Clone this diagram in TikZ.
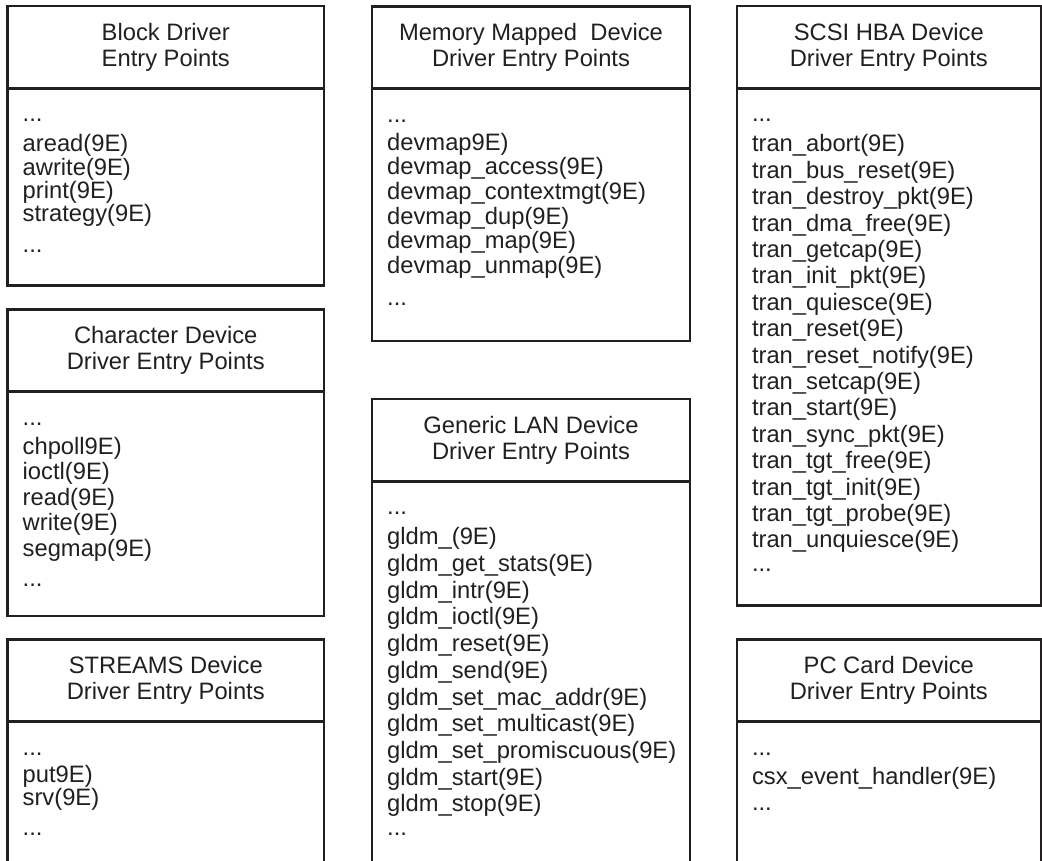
\documentclass[tikz,border=0pt]{standalone}
\usepackage{fontspec}
\setmainfont{Liberation Sans}
\usetikzlibrary{positioning}
\definecolor{ink}{RGB}{35,31,32}

\begin{document}
\begin{tikzpicture}[x=1pt,y=-1pt,color=ink,
    head/.style={draw,line width=2.6pt,minimum height=82pt,inner sep=0pt,outer sep=0pt,align=center,font=\fontsize{23.75pt}{26pt}\selectfont},
    body/.style={draw,line width=2.6pt,inner sep=0pt,outer sep=0pt,below=0.6pt of #1},
    entries/.style={anchor=north west,inner xsep=15pt,inner ysep=16pt,align=left,font=\fontsize{23.75pt}{#1}\selectfont},
    colA/.style={minimum width=316.5pt},
    colB/.style={minimum width=318pt},
    colC/.style={minimum width=304pt}]
  \useasboundingbox (0,0) rectangle (1042,860);
  % left column
  \node[head,colA] (blkhead) at (165.75,47) {Block Driver\\Entry Points};
  \node[body=blkhead,colA,minimum height=197pt] (blkbody) {};
  \node[entries=23.3pt] (blklist) at (blkbody.north west)
    {\rule{0pt}{17pt}...\\[6.7pt] aread(9E)\\ awrite(9E)\\ print(9E)\\ strategy(9E)\\[7.7pt] ...};
  \node[head,colA] (chrhead) at (165.75,350.5) {Character Device\\Driver Entry Points};
  \node[body=chrhead,colA,minimum height=224pt] (chrbody) {};
  \node[entries=25.5pt] (chrlist) at (chrbody.north west)
    {\rule{0pt}{17pt}...\\[3.5pt] chpoll9E)\\ ioctl(9E)\\ read(9E)\\ write(9E)\\ segmap(9E)\\[4.5pt] ...};
  \node[head,colA] (strhead) at (165.75,680.5) {STREAMS Device\\Driver Entry Points};
  \node[body=strhead,colA,minimum height=200pt] (strbody) {};
  \node[entries=23pt] (strlist) at (strbody.north west)
    {\rule{0pt}{17pt}...\\[4pt] put9E)\\ srv(9E)\\[7pt] ...};
  % middle column
  \node[head,colB] (memhead) at (531,47.5) {Memory Mapped\ \ Device\\Driver Entry Points};
  \node[body=memhead,colB,minimum height=252pt] (membody) {};
  \node[entries=24.6pt] (memlist) at (membody.north west)
    {\rule{0pt}{17pt}...\\[3.4pt] devmap9E)\\ devmap\_access(9E)\\ devmap\_contextmgt(9E)\\ devmap\_dup(9E)\\
     devmap\_map(9E)\\ devmap\_unmap(9E)\\[8pt] ...};
  \node[head,colB] (gldhead) at (531,440) {Generic LAN Device\\Driver Entry Points};
  \node[body=gldhead,colB,minimum height=400pt] (gldbody) {};
  \node[entries=26.7pt] (gldlist) at (gldbody.north west)
    {\rule{0pt}{17pt}...\\[3.3pt] gldm\_(9E)\\ gldm\_get\_stats(9E)\\ gldm\_intr(9E)\\ gldm\_ioctl(9E)\\ gldm\_reset(9E)\\
     gldm\_send(9E)\\ gldm\_set\_mac\_addr(9E)\\ gldm\_set\_multicast(9E)\\ gldm\_set\_promiscuous(9E)\\
     gldm\_start(9E)\\ gldm\_stop(9E)\\[-3pt] ...};
  % right column
  \node[head,colC] (scsihead) at (888.8,47) {SCSI HBA Device\\Driver Entry Points};
  \node[body=scsihead,colC,minimum height=517pt] (scsibody) {};
  \node[entries=26.4pt] (scsilist) at (scsibody.north west)
    {\rule{0pt}{17pt}...\\[3.6pt] tran\_abort(9E)\\ tran\_bus\_reset(9E)\\ tran\_destroy\_pkt(9E)\\ tran\_dma\_free(9E)\\
     tran\_getcap(9E)\\ tran\_init\_pkt(9E)\\ tran\_quiesce(9E)\\ tran\_reset(9E)\\ tran\_reset\_notify(9E)\\
     tran\_setcap(9E)\\ tran\_start(9E)\\ tran\_sync\_pkt(9E)\\ tran\_tgt\_free(9E)\\ tran\_tgt\_init(9E)\\
     tran\_tgt\_probe(9E)\\ tran\_unquiesce(9E)\\[-2.4pt] ...};
  \node[head,colC] (pchead) at (888.8,680.5) {PC Card Device\\Driver Entry Points};
  \node[body=pchead,colC,minimum height=200pt] (pcbody) {};
  \node[entries=26pt] (pclist) at (pcbody.north west)
    {\rule{0pt}{17pt}...\\[3pt] csx\_event\_handler(9E)\\ ...};
\end{tikzpicture}
\end{document}
